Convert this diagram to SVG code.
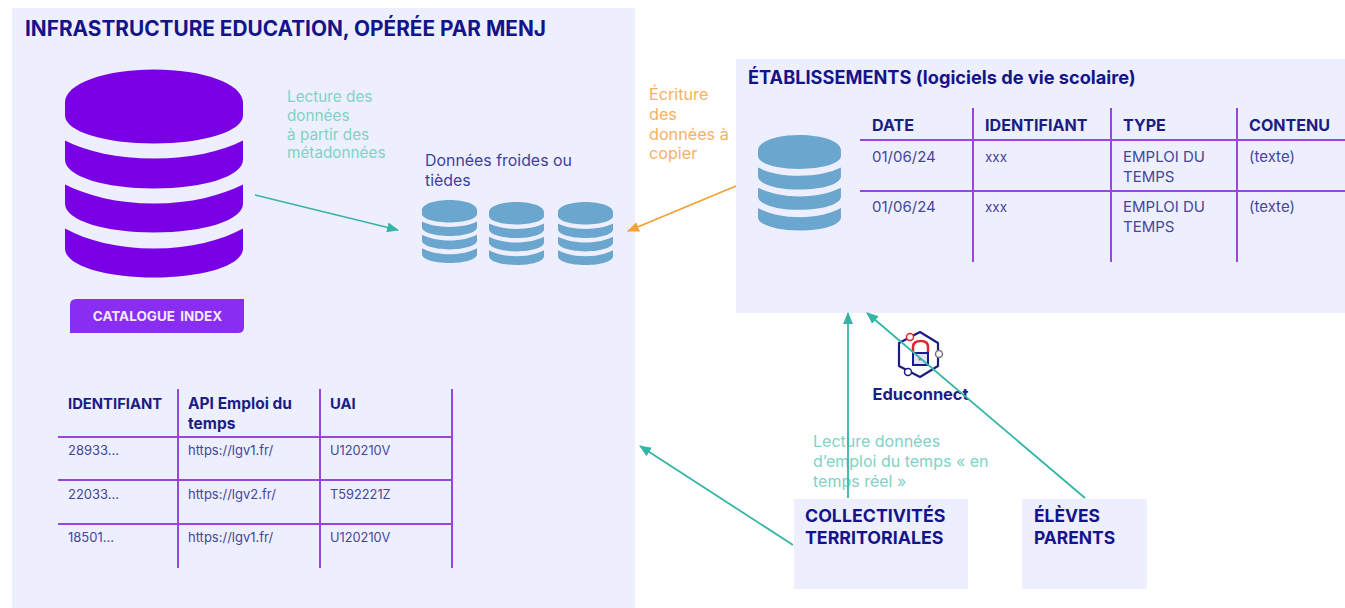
<svg xmlns="http://www.w3.org/2000/svg" width="1345" height="608" viewBox="0 0 1345 608">
<style>
text{font-family:Inter,"Noto Sans","Liberation Sans",sans-serif}
.panel{fill:#eeeffe}
.title{font-size:20.800px;font-weight:700;fill:#14148a}
.h2{font-size:18.200px;font-weight:700;fill:#14148a}
.h3{font-size:17.800px;font-weight:700;fill:#14148a}
.h4{font-size:17.400px;font-weight:700;fill:#14148a}
.th{font-size:14.800px;font-weight:700;fill:#1c1c85}
.tha{font-size:15.500px;font-weight:700;fill:#1c1c85}
.thb{font-size:16.100px;font-weight:700;fill:#1c1c85}
.td{font-size:15px;fill:#45459a}
.tdn{font-size:15px;fill:#45459a}
.tdx{font-size:13.500px;fill:#45459a}
.tds{font-size:13px;fill:#45459a}
.tdu{font-size:12.800px;fill:#45459a}
.teal{font-size:15.300px;fill:#7fd2c6}
.teal2{font-size:16px;fill:#7fd2c6}
.orange{font-size:16.200px;fill:#f6b25f}
.dark{font-size:15.900px;fill:#3f3f9c}
.grid{stroke:#9a45e0;stroke-width:2;fill:none}
.conn{fill:none;stroke-width:1.8}
.t{stroke:#35b5a6}.o{stroke:#f4a235}
</style>
<defs>
<path id="db" d="M0 33C0 14 40 0 89 0S178 14 178 33V46C178 62 138 74 89 74S0 62 0 46ZM0 71C22 82 52 89 89 89S156 82 178 71V90C178 107 138 119 89 119S0 107 0 90ZM0 115C22 126 52 134 89 134S156 126 178 115V134C178 151 138 163 89 163S0 151 0 134ZM0 159C22 171 52 179 89 179S156 171 178 159V179C178 196 138 208 89 208S0 196 0 179Z"/>
<marker id="at" markerWidth="12" markerHeight="10" refX="11" refY="5" orient="auto" markerUnits="userSpaceOnUse"><path d="M0 0L12 5L0 10Z" fill="#35b5a6"/></marker>
<marker id="ao" markerWidth="12" markerHeight="10" refX="11" refY="5" orient="auto" markerUnits="userSpaceOnUse"><path d="M0 0L12 5L0 10Z" fill="#f4a235"/></marker>
</defs>
<rect width="1345" height="608" fill="#fff"/>
<g id="infrastructure">
<rect class="panel" x="12" y="8" width="623" height="600"/>
<text class="title" x="25" y="36">INFRASTRUCTURE EDUCATION, OPÉRÉE PAR MENJ</text>
</g>
<g id="catalogue-db"><use href="#db" transform="translate(65 69.500)" fill="#7a00e6"/></g>
<g id="catalogue-index">
<path d="M76 299H244V327Q244 333 238 333H70V305Q70 299 76 299Z" fill="#8a2df2"/>
<text x="157.500" y="321" text-anchor="middle" font-size="13.500" font-weight="700" word-spacing="2" fill="#f3e9ff">CATALOGUE INDEX</text>
</g>
<g id="lecture-label">
<text class="teal" x="287" y="102">Lecture des</text>
<text class="teal" x="287" y="121">données</text>
<text class="teal" x="287" y="140">à partir des</text>
<text class="teal" x="287" y="158">métadonnées</text>
</g>
<g id="donnees-froides">
<text class="dark" x="425" y="166">Données froides ou</text>
<text class="dark" x="425" y="186">tièdes</text>
<g fill="#6ba6cf">
<use href="#db" transform="translate(422 200) scale(.309 .303)"/>
<use href="#db" transform="translate(489 202) scale(.309 .303)"/>
<use href="#db" transform="translate(558 202) scale(.309 .303)"/>
</g>
</g>
<g id="ecriture-label">
<text class="orange" x="649" y="100">Écriture</text>
<text class="orange" x="649" y="120">des</text>
<text class="orange" x="649" y="140">données à</text>
<text class="orange" x="649" y="159">copier</text>
</g>
<g id="index-table">
<path class="grid" d="M178 389V568M320 389V568M452 389V568M58 437H452M58 480H452M58 524H452"/>
<text class="th" x="68" y="409">IDENTIFIANT</text>
<text class="tha" x="188" y="409">API Emploi du</text>
<text class="tha" x="188" y="429">temps</text>
<text class="th" x="330" y="409">UAI</text>
<text class="tds" x="68" y="455">28933...</text><text class="tds" x="188" y="455">https://lgv1.fr/</text><text class="tdu" x="330" y="455">U120210V</text>
<text class="tds" x="68" y="499">22033...</text><text class="tds" x="188" y="499">https://lgv2.fr/</text><text class="tdu" x="330" y="499">T592221Z</text>
<text class="tds" x="68" y="542">18501...</text><text class="tds" x="188" y="542">https://lgv1.fr/</text><text class="tdu" x="330" y="542">U120210V</text>
</g>
<g id="etablissements">
<rect class="panel" x="736" y="59" width="609" height="254"/>
<text class="h2" x="748" y="84">ÉTABLISSEMENTS (logiciels de vie scolaire)</text>
<use href="#db" transform="translate(758 135) scale(.466 .459)" fill="#6ba6cf"/>
<path class="grid" d="M973 108V262M1111 108V262M1237 108V262M860 140H1345M860 191H1345"/>
<text class="thb" x="872" y="131">DATE</text><text class="thb" x="985" y="131">IDENTIFIANT</text><text class="thb" x="1123" y="131">TYPE</text><text class="thb" x="1249" y="131">CONTENU</text>
<text class="tdn" x="872" y="162">01/06/24</text><text class="tdx" x="985" y="162">xxx</text><text class="td" x="1123" y="162">EMPLOI DU</text><text class="td" x="1123" y="182">TEMPS</text><text class="td" x="1249" y="162">(texte)</text>
<text class="tdn" x="872" y="212">01/06/24</text><text class="tdx" x="985" y="212">xxx</text><text class="td" x="1123" y="212">EMPLOI DU</text><text class="td" x="1123" y="232">TEMPS</text><text class="td" x="1249" y="212">(texte)</text>
</g>
<g id="collectivites">
<rect class="panel" x="794" y="499" width="174" height="90"/>
<text class="h3" x="805" y="522">COLLECTIVITÉS</text>
<text class="h3" x="805" y="544">TERRITORIALES</text>
</g>
<g id="eleves">
<rect class="panel" x="1022" y="499" width="125" height="90"/>
<text class="h4" x="1034" y="522">ÉLÈVES</text>
<text class="h4" x="1034" y="544">PARENTS</text>
</g>
<g id="educonnect">
<path d="M920 332L938 343V366L920 377L899 366V343Z" fill="none" stroke="#1c1c85" stroke-width="2.200" stroke-linejoin="round"/>
<path d="M913 352V347Q913 341 921 341Q928 341 928 347V352" fill="none" stroke="#e2252f" stroke-width="2.500"/>
<rect x="913" y="353" width="15" height="12" fill="#dfe3f5" stroke="#1c1c85" stroke-width="2"/>
<circle cx="920" cy="359" r="1.500" fill="#8a7a3a"/>
<circle cx="910" cy="337" r="3.500" fill="#fff" stroke="#e2252f" stroke-width="1.500"/>
<circle cx="939" cy="354" r="3.500" fill="#fff" stroke="#777" stroke-width="1.500"/>
<circle cx="908" cy="372" r="3.500" fill="#fff" stroke="#1c1c85" stroke-width="1.500"/>
<text x="872.500" y="400" font-size="16.400" font-weight="700" fill="#1c1c85">Educonnect</text>
</g>
<g id="temps-reel-label">
<text class="teal2" x="813" y="447">Lecture données</text>
<text class="teal2" x="813" y="467">d’emploi du temps « en</text>
<text class="teal2" x="813" y="487">temps réel »</text>
</g>
<g id="connectors">
<line class="conn t" x1="255" y1="195" x2="398" y2="230" marker-end="url(#at)"/>
<line class="conn o" x1="736" y1="186" x2="628" y2="231" marker-end="url(#ao)"/>
<line class="conn t" x1="848" y1="498" x2="848" y2="313" marker-end="url(#at)"/>
<line class="conn t" x1="1085" y1="498" x2="867" y2="313" marker-end="url(#at)"/>
<line class="conn t" x1="793" y1="545" x2="640" y2="446" marker-end="url(#at)"/>
</g>
</svg>
